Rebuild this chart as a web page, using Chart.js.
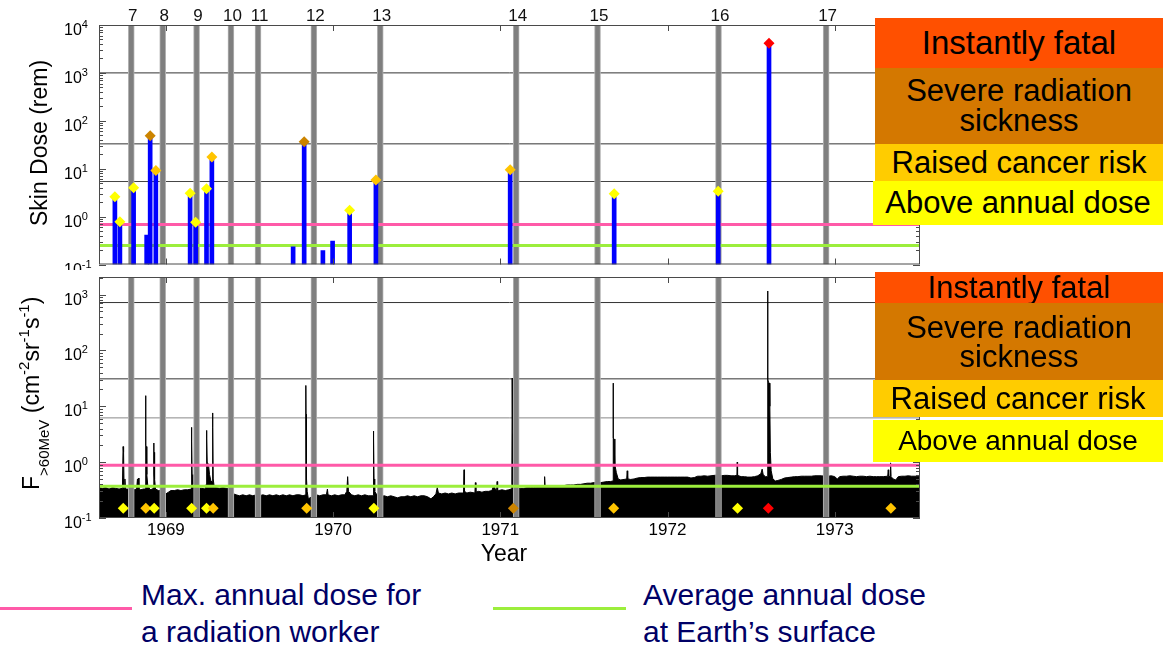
<!DOCTYPE html>
<html><head><meta charset="utf-8">
<script src="https://cdn.jsdelivr.net/npm/chart.js@4.4.1/dist/chart.umd.min.js"></script>
<style>
body{margin:0;background:#fff;width:1166px;height:647px;position:relative;overflow:hidden;font-family:"Liberation Sans",Arial,Helvetica,sans-serif}
canvas{position:absolute;left:0}
#c1{top:0}
#c2{top:270px}
.box{position:absolute;left:875px;width:288px;display:flex;align-items:center;justify-content:center;text-align:center;color:#000;line-height:30px;font-size:31px}
.leg{position:absolute;font-size:30px;line-height:37px;color:#000066;white-space:nowrap}
.ll{position:absolute;height:3px}
</style></head>
<body>
<canvas id="c1" width="1166" height="270"></canvas>
<canvas id="c2" width="1166" height="300"></canvas>

<div class="box" style="top:18px;height:50px;background:#ff5000;font-size:33px">Instantly fatal</div>
<div class="box" style="top:68px;height:76px;background:#d47800">Severe radiation<br>sickness</div>
<div class="box" style="top:144px;height:37px;background:#ffcc00">Raised cancer risk</div>
<div class="box" style="top:181px;height:44px;background:#ffff00;left:873px;width:290px">Above annual dose</div>

<div class="box" style="top:272px;height:31px;background:#ff5000">Instantly fatal</div>
<div class="box" style="top:303px;height:77px;background:#d47800;line-height:29px">Severe radiation<br>sickness</div>
<div class="box" style="top:380px;height:37px;background:#ffcc00;left:873px;width:290px">Raised cancer risk</div>
<div class="box" style="top:420px;height:42px;background:#ffff00;left:873px;width:290px;font-size:28px">Above annual dose</div>

<div class="ll" style="left:0;top:607px;width:132px;background:#ff5aa8"></div>
<div class="leg" style="left:141px;top:576px">Max. annual dose for<br>a radiation worker</div>
<div class="ll" style="left:493px;top:607px;width:133px;background:#9cee3c"></div>
<div class="leg" style="left:643px;top:576px">Average annual dose<br>at Earth’s surface</div>

<script>
// ---------------- data ----------------
const xMin = 1968.6, xMax = 1973.51;
const yearTicks = [1969, 1970, 1971, 1972, 1973];

const missionNames = ['7','8','9','10','11','12','13','14','15','16','17'];
const missionStart = [1968.778,1968.973,1969.170,1969.378,1969.540,1969.871,1970.274,1971.083,1971.565,1972.290,1972.932];
const missionEnd   = [1968.808,1968.989,1969.197,1969.400,1969.562,1969.899,1970.290,1971.107,1971.598,1972.320,1972.965];

// skin dose per event (rem)
const doseYears  = [1968.695,1968.725,1968.807,1968.885,1968.906,1968.940,1969.145,1969.178,1969.243,1969.275,1969.761,1969.827,1969.939,1969.997,1970.099,1970.256,1971.059,1971.681,1972.303,1972.607];
const doseValues = [2.6,0.78,4.0,0.41,48.7,9.2,3.06,0.76,3.8,17.5,0.234,36.5,0.195,0.31,1.35,5.8,9.5,3.0,3.4,4160];

// risk thresholds (skin dose axis, rem)
const doseRiskLevels = [1000, 33, 5.4];
const doseWorker = 0.68, doseEarth = 0.25;

// same thresholds on flux axis
const fluxRiskLevels = [720, 31, 6.2];
const fluxWorker = 0.88, fluxEarth = 0.37;

// >60 MeV proton flux [year, value]
const fluxPoints = [
[1968.600,0.35],[1968.620,0.34],[1968.640,0.35],[1968.660,0.33],[1968.680,0.35],[1968.700,0.34],[1968.720,0.33],[1968.740,0.34],
[1968.744,1.9],[1968.747,1.5],[1968.750,0.34],[1968.755,0.5],[1968.758,0.33],
[1968.770,0.33],[1968.790,0.31],[1968.810,0.32],[1968.825,0.33],
[1968.830,0.5],[1968.833,0.34],[1968.836,0.52],[1968.839,0.33],
[1968.850,0.32],[1968.865,0.33],
[1968.878,0.33],[1968.879,15.5],[1968.880,2.0],[1968.883,1.9],[1968.886,0.6],[1968.891,0.4],
[1968.905,0.32],[1968.920,0.33],
[1968.927,0.35],[1968.928,2.2],[1968.929,0.6],[1968.931,1.5],[1968.934,0.5],[1968.938,0.33],
[1968.955,0.31],[1968.970,0.31],[1968.985,0.28],[1969.000,0.27],[1969.015,0.29],[1969.030,0.31],[1969.050,0.31],[1969.070,0.32],[1969.090,0.31],[1969.110,0.32],[1969.130,0.32],
[1969.152,0.33],[1969.153,4.2],[1969.155,2.3],[1969.157,0.6],[1969.161,0.4],
[1969.175,0.33],[1969.195,0.34],[1969.215,0.34],[1969.235,0.33],
[1969.241,0.4],[1969.243,3.7],[1969.245,2.6],[1969.247,1.0],[1969.255,0.9],[1969.261,0.6],[1969.270,0.45],[1969.278,0.45],[1969.279,7.6],[1969.281,4.2],[1969.283,0.5],[1969.289,0.36],
[1969.300,0.35],[1969.320,0.34],[1969.340,0.35],[1969.360,0.34],[1969.380,0.33],[1969.395,0.32],[1969.405,0.27],[1969.420,0.26],[1969.440,0.25],[1969.460,0.26],[1969.480,0.25],[1969.500,0.26],[1969.520,0.25],[1969.540,0.26],[1969.560,0.25],[1969.580,0.26],[1969.600,0.25],[1969.620,0.26],[1969.640,0.25],[1969.660,0.26],[1969.680,0.25],[1969.700,0.26],[1969.720,0.25],[1969.740,0.26],[1969.760,0.25],[1969.780,0.26],[1969.800,0.26],[1969.820,0.25],
[1969.836,0.26],[1969.837,23.6],[1969.838,7.2],[1969.841,0.5],[1969.845,0.3],[1969.852,0.22],[1969.862,0.23],
[1969.880,0.25],[1969.900,0.26],[1969.920,0.25],[1969.940,0.26],[1969.960,0.26],[1969.966,0.33],[1969.970,0.26],[1969.990,0.25],[1970.010,0.26],[1970.030,0.25],[1970.050,0.26],[1970.070,0.26],
[1970.082,0.3],[1970.087,0.55],[1970.092,0.3],
[1970.110,0.26],[1970.130,0.25],[1970.150,0.26],[1970.170,0.25],[1970.190,0.26],[1970.210,0.25],
[1970.239,0.25],[1970.241,3.6],[1970.243,2.6],[1970.245,0.5],[1970.249,0.3],
[1970.265,0.25],[1970.285,0.24],[1970.305,0.25],[1970.325,0.24],[1970.345,0.25],[1970.365,0.24],[1970.385,0.23],[1970.405,0.24],[1970.425,0.24],[1970.445,0.25],[1970.465,0.24],[1970.485,0.25],[1970.505,0.24],[1970.525,0.25],[1970.545,0.25],[1970.565,0.24],[1970.585,0.22],[1970.600,0.24],
[1970.615,0.27],[1970.623,0.35],[1970.630,0.28],
[1970.650,0.27],[1970.670,0.28],[1970.690,0.27],[1970.710,0.28],[1970.730,0.27],[1970.750,0.28],
[1970.780,0.28],[1970.783,0.73],[1970.786,0.3],[1970.800,0.28],[1970.820,0.29],
[1970.848,0.28],[1970.851,0.43],[1970.854,0.29],
[1970.870,0.30],[1970.890,0.29],[1970.910,0.30],[1970.930,0.30],[1970.950,0.31],[1970.960,0.38],[1970.970,0.33],
[1970.978,0.31],[1970.981,0.45],[1970.984,0.31],[1970.990,0.31],[1971.010,0.32],[1971.030,0.31],[1971.050,0.32],
[1971.065,0.33],[1971.069,0.4],[1971.071,32],[1971.072,3.8],[1971.075,4.0],[1971.078,2.5],[1971.081,0.6],[1971.087,0.4],
[1971.100,0.33],[1971.120,0.34],[1971.140,0.34],[1971.160,0.35],[1971.180,0.35],[1971.200,0.35],[1971.220,0.36],[1971.240,0.36],
[1971.262,0.36],[1971.265,0.55],[1971.268,0.37],
[1971.280,0.37],[1971.300,0.37],[1971.320,0.37],[1971.340,0.38],[1971.360,0.38],[1971.380,0.38],[1971.400,0.39],[1971.420,0.39],[1971.440,0.39],[1971.460,0.40],[1971.480,0.40],[1971.500,0.41],[1971.520,0.42],[1971.540,0.42],[1971.560,0.43],[1971.580,0.43],[1971.600,0.43],[1971.620,0.44],[1971.640,0.45],[1971.660,0.45],
[1971.674,0.46],[1971.675,26],[1971.676,2.7],[1971.680,2.6],[1971.685,0.9],[1971.694,0.65],[1971.705,0.5],
[1971.720,0.48],[1971.740,0.49],[1971.756,0.5],[1971.759,0.7],[1971.762,0.5],
[1971.780,0.49],[1971.800,0.50],[1971.820,0.52],[1971.840,0.53],[1971.860,0.53],[1971.880,0.54],[1971.900,0.54],[1971.920,0.54],[1971.940,0.54],[1971.960,0.54],[1971.980,0.54],[1972.000,0.54],[1972.020,0.54],[1972.040,0.54],[1972.060,0.54],[1972.080,0.54],[1972.100,0.54],[1972.120,0.54],[1972.140,0.52],[1972.160,0.53],[1972.180,0.56],[1972.200,0.56],[1972.220,0.57],[1972.240,0.56],[1972.260,0.57],[1972.280,0.58],[1972.300,0.59],[1972.320,0.57],[1972.340,0.58],[1972.360,0.58],[1972.380,0.57],[1972.400,0.57],
[1972.415,0.58],[1972.417,1.0],[1972.419,0.58],
[1972.440,0.55],[1972.460,0.55],[1972.480,0.54],[1972.500,0.54],[1972.520,0.55],[1972.540,0.57],
[1972.558,0.62],[1972.566,0.75],[1972.572,0.6],[1972.585,0.55],
[1972.597,0.55],[1972.599,1160],[1972.600,30],[1972.604,27],[1972.610,26],[1972.612,10],[1972.615,1.5],[1972.620,0.7],
[1972.630,0.5],[1972.645,0.46],[1972.660,0.47],[1972.680,0.49],[1972.700,0.52],[1972.720,0.53],[1972.740,0.54],[1972.760,0.55],[1972.780,0.55],[1972.800,0.56],[1972.820,0.56],[1972.840,0.56],[1972.860,0.56],[1972.880,0.57],[1972.900,0.57],[1972.920,0.57],[1972.940,0.56],[1972.960,0.56],[1972.980,0.57],
[1973.000,0.55],[1973.015,0.50],[1973.030,0.55],[1973.050,0.56],[1973.070,0.56],[1973.090,0.57],[1973.110,0.56],[1973.130,0.55],[1973.150,0.56],[1973.170,0.56],[1973.190,0.55],[1973.210,0.56],[1973.230,0.55],[1973.250,0.55],[1973.270,0.55],[1973.290,0.55],
[1973.317,0.56],[1973.320,0.73],[1973.323,0.56],[1973.331,0.55],[1973.334,0.97],[1973.337,0.55],
[1973.350,0.50],[1973.365,0.48],[1973.380,0.55],[1973.400,0.56],[1973.420,0.56],[1973.440,0.57],[1973.460,0.56],[1973.480,0.56],[1973.510,0.56]
];

// flux events with risk category (0 above annual, 1 cancer risk, 2 severe, 3 fatal)
const eventYears  = [1968.745,1968.880,1968.930,1969.154,1969.243,1969.283,1969.842,1970.244,1971.078,1971.678,1972.419,1972.603,1973.336];
const eventLevels = [0,1,0,0,0,1,1,0,2,1,0,3,1];
const eventMarkerValue = 0.15;

// ---------------- styles ----------------
const riskColors = ['#ffff00','#ffc400','#cc8400','#ff0000'];
const FONT = '"Liberation Sans", Arial, Helvetica, sans-serif';

function doseCategory(v){
  if (v >= doseRiskLevels[0]) return 3;
  if (v >= doseRiskLevels[1]) return 2;
  if (v >= doseRiskLevels[2]) return 1;
  return 0;
}

function hline(v, color, width, order){
  return {type:'line', data:[{x:xMin,y:v},{x:xMax,y:v}], borderColor:color, borderWidth:width,
          pointRadius:0, fill:false, order:order};
}
function missionBars(yMin, yMax){
  return {type:'bar', stack:'s', order:40, barThickness:6,
    data: missionStart.map((s,i)=>({x:(s+missionEnd[i])/2, y:[yMin,yMax]})),
    backgroundColor:'#7f7f7f', borderColor:'#b4b4b4', borderWidth:{left:1,right:1,top:0,bottom:0}, borderSkipped:false};
}

function line(ctx,x1,y1,x2,y2){ctx.beginPath();ctx.moveTo(x1,y1);ctx.lineTo(x2,y2);ctx.stroke();}

const decor = {
  id:'decor',
  afterDraw(chart, args, o){
    const {ctx, chartArea:a} = chart;
    const x = chart.scales.x, y = chart.scales.y;
    ctx.save();
    ctx.strokeStyle = '#4a4a4a'; ctx.lineWidth = 1;
    ctx.strokeRect(a.left+0.5, a.top+0.5, a.right-a.left-1, a.bottom-a.top-1);
    // log ticks
    for (const d of o.decades){
      for (let m=1;m<10;m++){
        const v = m*Math.pow(10,d);
        if (v < y.min*0.999 || v > y.max*1.001) continue;
        const py = Math.round(y.getPixelForValue(v))+0.5;
        const len = m===1 ? 7 : 4;
        line(ctx, a.left, py, a.left+len, py);
        line(ctx, a.right-len, py, a.right, py);
      }
    }
    // year ticks
    for (const yr of yearTicks){
      const px = Math.round(x.getPixelForValue(yr))+0.5;
      line(ctx, px, a.top, px, a.top+6);
      line(ctx, px, a.bottom-6, px, a.bottom);
    }
    // y tick labels 10^n
    ctx.fillStyle = '#000';
    ctx.textBaseline = 'alphabetic'; ctx.textAlign = 'left';
    for (const d of o.decades){
      const py = y.getPixelForValue(Math.pow(10,d));
      ctx.font = '16px ' + FONT;
      ctx.fillText('10', 64, py+10);
      const w = ctx.measureText('10').width;
      ctx.font = '11px ' + FONT;
      ctx.fillText(String(d), 64+w, py+3);
    }
    // axis title
    ctx.save();
    ctx.translate(o.titleX, o.titleY);
    ctx.rotate(-Math.PI/2);
    const widths = o.title.map(s => { ctx.font = s[1]+'px '+FONT; return ctx.measureText(s[0]).width; });
    const total = widths.reduce((p,c)=>p+c,0);
    let cx = o.titleCenter ? -total/2 : 0;
    o.title.forEach((s,i)=>{
      ctx.font = s[1]+'px '+FONT;
      ctx.textAlign = 'left';
      ctx.fillText(s[0], cx, s[2]);
      cx += widths[i];
    });
    ctx.restore();
    // mission labels
    if (o.missionLabels){
      ctx.font = '17px ' + FONT; ctx.textAlign = 'center'; ctx.fillStyle = '#111';
      missionNames.forEach((n,i)=>{
        const px = x.getPixelForValue((missionStart[i]+missionEnd[i])/2) + 1.5;
        ctx.fillText(n, px, 21);
      });
    }
    if (o.yearLabels){
      ctx.font = '17px ' + FONT; ctx.textAlign = 'center'; ctx.fillStyle = '#000';
      yearTicks.forEach(yr => ctx.fillText(String(yr), x.getPixelForValue(yr), a.bottom+17));
      ctx.font = '23px ' + FONT;
      ctx.fillText('Year', 504, a.bottom+43);
    }
    ctx.restore();
  }
};

function baseOptions(yMin, yMax, pad, decorOpts){
  return {
    responsive:false, animation:false, devicePixelRatio:1,
    layout:{padding:pad},
    scales:{
      x:{type:'linear', min:xMin, max:xMax, display:false, offset:false, grid:{offset:false}},
      y:{type:'logarithmic', min:yMin, max:yMax, display:false, stacked:false}
    },
    plugins:{legend:{display:false}, tooltip:{enabled:false}, decor:decorOpts}
  };
}

// ---------------- top chart: skin dose ----------------
const doseStemData = doseYears.map((t,i)=>({x:t, y:[0.1, doseValues[i]]}));
const doseMarkIdx = doseValues.map((v,i)=>i).filter(i => doseValues[i] > doseWorker);
new Chart(document.getElementById('c1'), {
  type:'scatter',
  data:{datasets:[
    hline(doseRiskLevels[0], '#333', 1, 60),
    hline(doseRiskLevels[1], '#333', 1, 60),
    hline(doseRiskLevels[2], '#444', 1, 60),
    missionBars(0.1, 10000),
    hline(doseWorker, '#ff5aa8', 3, 30),
    hline(doseEarth, '#9cee3c', 3, 30),
    {type:'bar', stack:'s', order:20, barThickness:4, data:doseStemData, backgroundColor:'#0000ff', borderWidth:0},
    {type:'scatter', order:10, data: doseMarkIdx.map(i=>({x:doseYears[i], y:doseValues[i]})),
     pointStyle:'rectRot', pointRadius:5.5, borderWidth:0,
     backgroundColor: doseMarkIdx.map(i=>riskColors[doseCategory(doseValues[i])])}
  ]},
  options: baseOptions(0.1, 10000, {left:99, right:246, top:25, bottom:5},
    {decades:[-1,0,1,2,3,4], missionLabels:true, yearLabels:false,
     titleX:47, titleY:143, titleCenter:true, title:[['Skin Dose (rem)',23,0]]}),
  plugins:[decor]
});

// ---------------- bottom chart: flux ----------------
const fluxMax = 2065;
new Chart(document.getElementById('c2'), {
  type:'scatter',
  data:{datasets:[
    hline(fluxRiskLevels[0], '#333', 1, 60),
    hline(fluxRiskLevels[1], '#333', 1, 60),
    hline(fluxRiskLevels[2], '#888', 1, 60),
    {type:'line', order:50, data: fluxPoints.map(p=>({x:p[0], y:p[1]})), borderColor:'#000', borderWidth:1,
     backgroundColor:'#000', fill:'start', pointRadius:0, tension:0},
    missionBars(0.1, fluxMax),
    hline(fluxWorker, '#ff5aa8', 3, 30),
    hline(fluxEarth, '#9cee3c', 3, 30),
    {type:'scatter', order:10, data: eventYears.map(t=>({x:t, y:eventMarkerValue})),
     pointStyle:'rectRot', pointRadius:5.5, borderWidth:0,
     backgroundColor: eventLevels.map(l=>riskColors[l])}
  ]},
  options: baseOptions(0.1, fluxMax, {left:99, right:246, top:7, bottom:52},
    {decades:[-1,0,1,2,3], missionLabels:false, yearLabels:true,
     titleX:39, titleY:220, titleCenter:false,
     title:[['F',23,0],['>60MeV',15,10],[' (cm',23,0],['-2',15,-10],['sr',23,0],['-1',15,-10],['s',23,0],['-1',15,-10],[')',23,0]]}),
  plugins:[decor]
});
</script>
</body></html>
